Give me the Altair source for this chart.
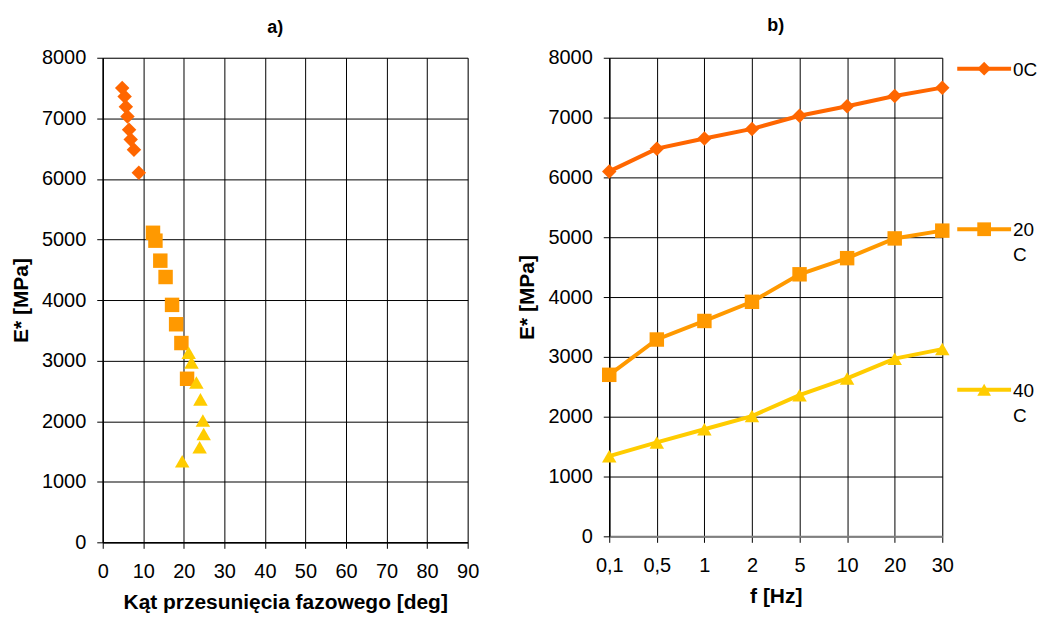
import altair as alt
import pandas as pd

# ---- data ----
freq_labels = ["0,1", "0,5", "1", "2", "5", "10", "20", "30"]
series_names = ["0C", "20C", "40C"]
legend_texts = ["0C", "20\nC", "40\nC"]
series_colors = ["#FF6600", "#FF9900", "#FFCC00"]
series_shapes = ["diamond", "square", "triangle-up"]

e_0C = [6100, 6480, 6650, 6810, 7030, 7190, 7360, 7500]
e_20C = [2700, 3290, 3600, 3920, 4380, 4650, 4980, 5110]
e_40C = [1340, 1570, 1790, 2010, 2360, 2640, 2970, 3130]

phase_0C = [8.9, 7.7, 6.9, 6.5, 6.1, 5.7, 5.4, 4.8]
phase_20C = [20.8, 19.4, 18.1, 17.1, 15.5, 14.2, 13.0, 12.4]
phase_40C = [19.6, 23.9, 24.9, 24.7, 24.1, 23.1, 21.9, 21.2]

y_ticks = [0, 1000, 2000, 3000, 4000, 5000, 6000, 7000, 8000]
x_ticks_a = [0, 10, 20, 30, 40, 50, 60, 70, 80, 90]

rows = []
for name, es, ps in zip(series_names, [e_0C, e_20C, e_40C], [phase_0C, phase_20C, phase_40C]):
    for f, ev, pv in zip(freq_labels, es, ps):
        rows.append({"series": name, "freq": f, "E": ev, "phase": pv})
df = pd.DataFrame(rows)
leg_df = pd.DataFrame({"series": series_names, "text": legend_texts})

FONT = "Liberation Sans"
LBL = 20
TTL = 21
color_enc = alt.Color("series:N", scale=alt.Scale(domain=series_names, range=series_colors), legend=None)
shape_enc = alt.Shape("series:N", scale=alt.Scale(domain=series_names, range=series_shapes), legend=None)


def y_axis():
    return alt.Axis(title="E* [MPa]", values=y_ticks, format="d", tickSize=6, labelPadding=11, titlePadding=10,
                    grid=True, gridColor="#000000", gridWidth=1, domainColor="#000000", domainWidth=1.5,
                    tickColor="#000000", labelFontSize=LBL, titleFontSize=TTL, titleFontWeight="bold",
                    labelColor="#000000", titleColor="#000000", labelFont=FONT, titleFont=FONT)


# ---- panel a ----
chart_a = alt.Chart(df).mark_point(filled=True, opacity=1, size=210).encode(
    x=alt.X("phase:Q", scale=alt.Scale(domain=[0, 90], nice=False, zero=True),
            axis=alt.Axis(title="Kąt przesunięcia fazowego [deg]", values=x_ticks_a, format="d", tickSize=6,
                          labelPadding=13, titlePadding=10, grid=True, gridColor="#000000", gridWidth=1,
                          domainColor="#000000", domainWidth=1.5, tickColor="#000000",
                          labelFontSize=LBL, titleFontSize=TTL, titleFontWeight="bold", labelColor="#000000",
                          titleColor="#000000", labelFont=FONT, titleFont=FONT, labelFlush=False)),
    y=alt.Y("E:Q", scale=alt.Scale(domain=[0, 8000], nice=False), axis=y_axis()),
    color=color_enc,
    shape=shape_enc,
).properties(
    width=366, height=486,
    title=alt.TitleParams("a)", fontSize=18, fontWeight="bold", font=FONT, anchor="middle", offset=11, dx=-10),
)

# ---- panel b ----
x_b = alt.X("freq:O", sort=freq_labels, scale=alt.Scale(type="point", padding=0),
            axis=alt.Axis(title="f [Hz]", labelAngle=0, tickSize=6, labelPadding=13, titlePadding=10,
                          grid=True, gridColor="#000000", gridWidth=1, domainColor="#808080", domainWidth=2,
                          tickColor="#000000", labelFontSize=LBL, titleFontSize=TTL, titleFontWeight="bold",
                          labelColor="#000000", titleColor="#000000", labelFont=FONT, titleFont=FONT))
y_b = alt.Y("E:Q", scale=alt.Scale(domain=[0, 8000], nice=False), axis=y_axis())

lines_b = alt.Chart(df).mark_line(strokeWidth=4).encode(x=x_b, y=y_b, color=color_enc, detail="series:N")
pts_b = alt.Chart(df).mark_point(filled=True, opacity=1, size=210).encode(
    x=x_b, y=y_b, color=color_enc, shape=shape_enc)
chart_b = alt.layer(lines_b, pts_b).properties(
    width=334, height=480,
    title=alt.TitleParams("b)", fontSize=18, fontWeight="bold", font=FONT, anchor="middle", offset=13),
)

# ---- legend panel ----
leg_base = alt.Chart(leg_df).encode(
    y=alt.Y("series:N", sort=series_names, scale=alt.Scale(type="point", range=[11, 333], padding=0), axis=None))
leg_rule = leg_base.mark_rule(strokeWidth=4).encode(x=alt.value(0), x2=alt.value(54), color=color_enc)
leg_pts = leg_base.mark_point(filled=True, opacity=1, size=190).encode(x=alt.value(27), color=color_enc,
                                                                      shape=shape_enc)
leg_txt = leg_base.mark_text(align="left", baseline="alphabetic", dy=7, lineBreak="\n", fontSize=19,
                             font=FONT, color="#000000", lineHeight=25).encode(x=alt.value(56), text="text:N")
legend = alt.layer(leg_rule, leg_pts, leg_txt).properties(
    width=78, height=482, view=alt.ViewBackground(stroke="transparent"),
    title=alt.TitleParams(" ", fontSize=18, font=FONT, offset=11))

chart = alt.hconcat(
    chart_a,
    alt.hconcat(chart_b, legend, spacing=0),
    spacing=37,
).properties(
    padding={"left": 2, "top": 7, "right": 0, "bottom": 0},
).configure_view(
    stroke="#808080", strokeWidth=2,
).configure(font=FONT, background="white")

chart.save("out.html", embed_options={"renderer": "svg", "actions": False})
